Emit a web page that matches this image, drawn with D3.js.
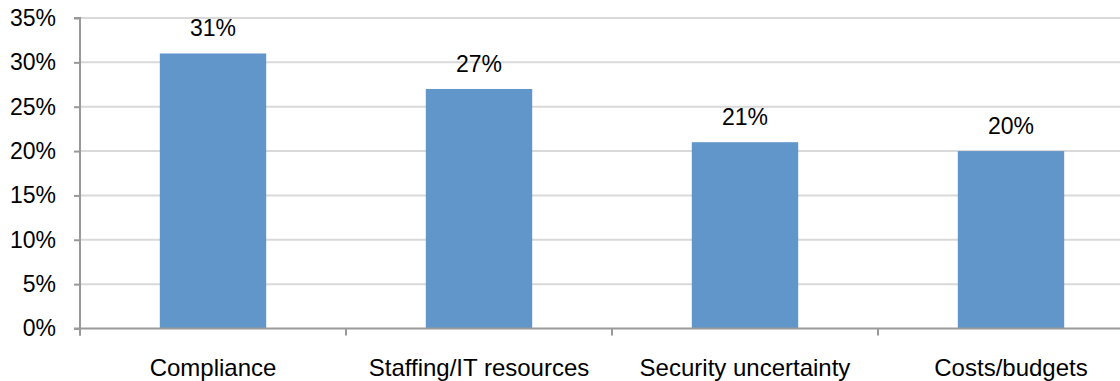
<!DOCTYPE html>
<html>
<head>
<meta charset="utf-8">
<script src="https://cdn.jsdelivr.net/npm/d3@7"></script>
<style>
  html, body { margin: 0; padding: 0; background: #fff; }
  svg { display: block; font-family: "Liberation Sans", Arial, sans-serif; }
</style>
</head>
<body>
<svg id="chart" width="1120" height="381"></svg>
<script>
// Survey results: share of respondents citing each challenge
const categories = ["Compliance", "Staffing/IT resources", "Security uncertainty", "Costs/budgets"];
const values = [31, 27, 21, 20];
const yTicks = [0, 5, 10, 15, 20, 25, 30, 35];

const svg = d3.select("#chart");
const plotLeft = 80, plotRight = 1144, plotTop = 18, plotBottom = 328.5;
const fontSize = 23, catFontSize = 24;

const x = d3.scaleBand().domain(categories).range([plotLeft, plotRight]).paddingInner(0.6).paddingOuter(0.3);
const y = d3.scaleLinear().domain([0, 35]).range([plotBottom, plotTop]);

// horizontal gridlines
svg.append("g").selectAll("line").data(yTicks.filter(d => d > 0)).join("line")
  .attr("x1", plotLeft).attr("x2", 1120)
  .attr("y1", d => y(d)).attr("y2", d => y(d))
  .attr("stroke", "#d9d9d9").attr("stroke-width", 2);

// bars
svg.append("g").selectAll("rect").data(values).join("rect")
  .attr("x", (d, i) => x(categories[i]))
  .attr("width", x.bandwidth())
  .attr("y", d => y(d))
  .attr("height", d => y(0) - y(d))
  .attr("fill", "#6096c9");

// value labels
svg.append("g").selectAll("text").data(values).join("text")
  .attr("x", (d, i) => x(categories[i]) + x.bandwidth() / 2)
  .attr("y", d => y(d) - 17)
  .attr("text-anchor", "middle")
  .attr("font-size", fontSize).attr("fill", "#000")
  .text(d => d + "%");

// y axis
const yAxis = d3.axisLeft(y).tickValues(yTicks).tickFormat(d => d + "%").tickSize(6).tickPadding(18);
const gy = svg.append("g").attr("transform", `translate(${plotLeft},0)`).call(yAxis);
gy.select(".domain").attr("stroke", "#999").attr("stroke-width", 2).attr("d", `M-6,${plotTop}H0V${plotBottom + 7}`);
gy.selectAll(".tick line").attr("stroke", "#999").attr("stroke-width", 2);
gy.selectAll(".tick text").attr("font-size", fontSize).attr("fill", "#000").attr("font-family", "Liberation Sans, Arial, sans-serif");

// x axis with boundary ticks between categories
const gx = svg.append("g");
gx.append("line").attr("x1", plotLeft - 6).attr("x2", 1120).attr("y1", plotBottom).attr("y2", plotBottom)
  .attr("stroke", "#999").attr("stroke-width", 2);
const outer = x.paddingOuter() * x.step();
gx.selectAll("line.tk").data(categories).join("line").attr("class", "tk")
  .attr("x1", d => x(d) - outer)
  .attr("x2", d => x(d) - outer)
  .attr("y1", plotBottom).attr("y2", plotBottom + 7)
  .attr("stroke", "#999").attr("stroke-width", 2);
gx.selectAll("text").data(categories).join("text")
  .attr("x", d => x(d) + x.bandwidth() / 2)
  .attr("y", 376)
  .attr("text-anchor", "middle")
  .attr("font-size", catFontSize).attr("fill", "#000")
  .text(d => d);
</script>
</body>
</html>
